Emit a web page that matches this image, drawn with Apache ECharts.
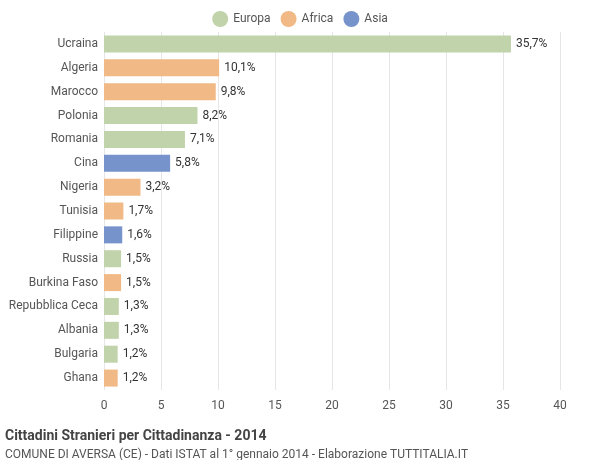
<!DOCTYPE html>
<html><head><meta charset="utf-8">
<script src="https://cdn.jsdelivr.net/npm/echarts@6/dist/echarts.min.js"></script>
<style>html,body{margin:0;padding:0}#c{width:600px;height:460px}</style>
</head><body><div id="c"></div>
<script>
const categories = ["Ucraina","Algeria","Marocco","Polonia","Romania","Cina","Nigeria","Tunisia","Filippine","Russia","Burkina Faso","Repubblica Ceca","Albania","Bulgaria","Ghana"];
const values = [35.7,10.1,9.8,8.2,7.1,5.8,3.2,1.7,1.6,1.5,1.5,1.3,1.3,1.2,1.2];
const continents = ["Europa","Africa","Africa","Europa","Europa","Asia","Africa","Africa","Asia","Europa","Africa","Europa","Europa","Europa","Africa"];
const seriesNames = ["Europa","Africa","Asia"];
const colors = {"Europa":"#c1d3aa","Africa":"#f1b985","Asia":"#7694cb"};
const xTicks = {min:0,max:40,interval:5};

const chart = echarts.init(document.getElementById('c'));
chart.setOption({
  animation:false,
  textStyle:{fontFamily:'Roboto, sans-serif'},
  legend:{top:6,left:'center',itemWidth:16,itemHeight:16,icon:'circle',itemGap:10,
    textStyle:{color:'#555',fontSize:12},data:seriesNames},
  title:[{text:'Cittadini Stranieri per Cittadinanza - 2014',left:0,top:424,
      textStyle:{fontSize:14,fontWeight:'bold',color:'#444'}},
    {text:'COMUNE DI AVERSA (CE) - Dati ISTAT al 1° gennaio 2014 - Elaborazione TUTTITALIA.IT',left:0,top:444,
      textStyle:{fontSize:12,fontWeight:'normal',color:'#555'}}],
  grid:{left:104,right:40,top:32,bottom:70},
  xAxis:{type:'value',min:xTicks.min,max:xTicks.max,interval:xTicks.interval,
    axisLine:{show:false},axisTick:{show:false},
    axisLabel:{color:'#555',fontSize:12,margin:10},
    splitLine:{lineStyle:{color:'#e6e6e6'}}},
  yAxis:{type:'category',inverse:true,data:categories,
    axisLine:{show:false},axisTick:{show:false},
    axisLabel:{color:'#555',fontSize:12,margin:6}},
  series:seriesNames.map(n=>({
    name:n,type:'bar',stack:'all',barWidth:17,
    itemStyle:{color:colors[n]},
    data:values.map((v,i)=>continents[i]===n?v:'-'),
    label:{show:true,position:'right',color:'#333',fontSize:12,distance:5,
      formatter:p=>p.value.toFixed(1).replace('.',',')+'%'}
  }))
});
</script></body></html>
